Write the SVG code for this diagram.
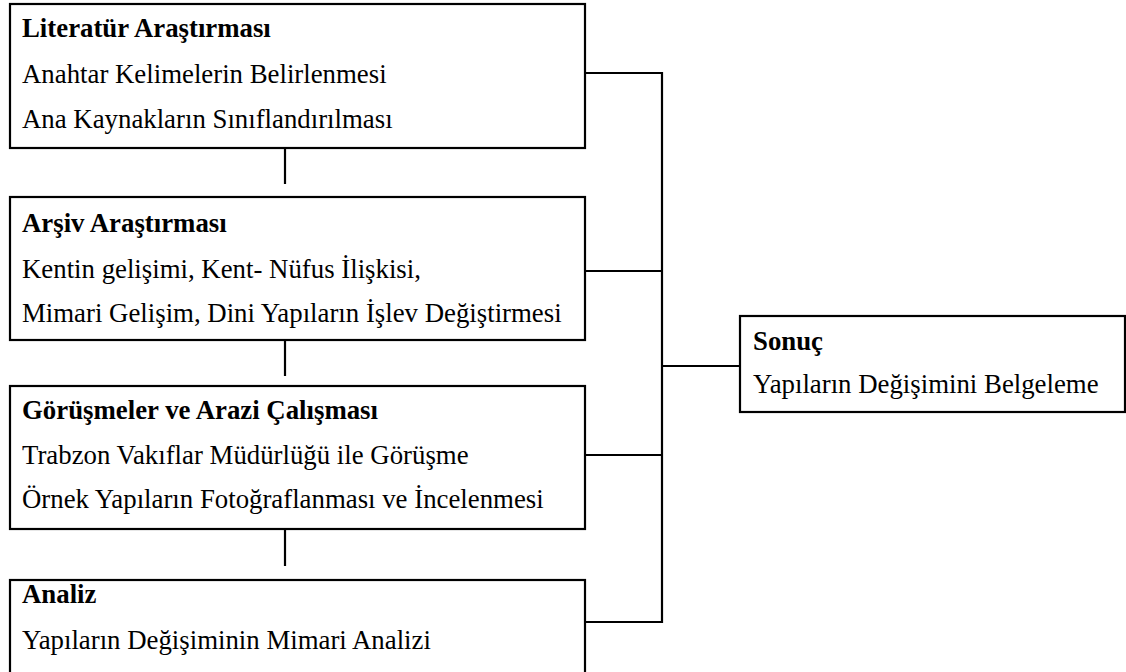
<svg xmlns="http://www.w3.org/2000/svg" width="1126" height="672" viewBox="0 0 1126 672">
<style>
.box{fill:#fff;stroke:#000;stroke-width:2.2}
.ln{stroke:#000;stroke-width:2.2;fill:none}
text{font-family:"Liberation Serif","Times New Roman",serif;font-size:26.8px;fill:#000}
.h{font-weight:bold}
</style>
<rect width="1126" height="672" fill="#fff"/>
<g id="connectors">
<line class="ln" x1="285" y1="148" x2="285" y2="184"/>
<line class="ln" x1="285" y1="340" x2="285" y2="376"/>
<line class="ln" x1="285" y1="529" x2="285" y2="566"/>
<line class="ln" x1="585" y1="73" x2="662" y2="73"/>
<line class="ln" x1="585" y1="271" x2="662" y2="271"/>
<line class="ln" x1="585" y1="455" x2="662" y2="455"/>
<line class="ln" x1="585" y1="622" x2="663" y2="622"/>
<line class="ln" x1="662" y1="72" x2="662" y2="623"/>
<line class="ln" x1="662" y1="366" x2="740" y2="366"/>
</g>
<g id="literatur">
<rect class="box" x="10" y="4" width="575" height="144"/>
<text class="h" x="22" y="37">Literatür Araştırması</text>
<text x="22" y="83">Anahtar Kelimelerin Belirlenmesi</text>
<text x="22" y="128">Ana Kaynakların Sınıflandırılması</text>
</g>
<g id="arsiv">
<rect class="box" x="10" y="197" width="575" height="143"/>
<text class="h" x="22" y="232">Arşiv Araştırması</text>
<text x="22" y="278">Kentin gelişimi, Kent- Nüfus İlişkisi,</text>
<text x="22" y="322">Mimari Gelişim, Dini Yapıların İşlev Değiştirmesi</text>
</g>
<g id="gorusmeler">
<rect class="box" x="10" y="386" width="575" height="143"/>
<text class="h" x="22" y="419">Görüşmeler ve Arazi Çalışması</text>
<text x="22" y="464">Trabzon Vakıflar Müdürlüğü ile Görüşme</text>
<text x="22" y="508">Örnek Yapıların Fotoğraflanması ve İncelenmesi</text>
</g>
<g id="analiz">
<rect class="box" x="10" y="580" width="575" height="120"/>
<text class="h" x="22" y="603">Analiz</text>
<text x="22" y="649">Yapıların Değişiminin Mimari Analizi</text>
</g>
<g id="sonuc">
<rect class="box" x="740" y="316" width="385" height="96"/>
<text class="h" x="753" y="350">Sonuç</text>
<text x="753" y="393">Yapıların Değişimini Belgeleme</text>
</g>
</svg>
